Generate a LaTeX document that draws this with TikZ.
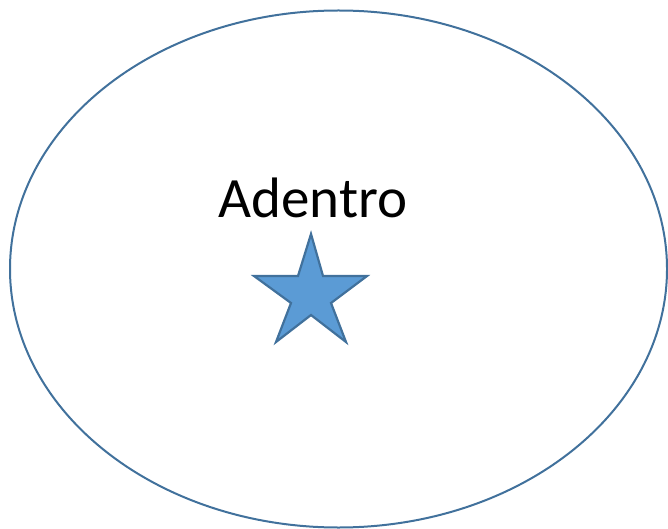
\documentclass[tikz,border=0pt]{standalone}
\usepackage{fontspec}
\setmainfont{Carlito}
\definecolor{edge}{HTML}{41719C}
\definecolor{fillb}{HTML}{5B9BD5}
\begin{document}
\begin{tikzpicture}[x=1pt,y=-1pt,
  outline/.style={draw=edge,line width=2pt},
  starshape/.style={draw=edge,fill=fillb,line width=2.2pt,line join=miter}]
\useasboundingbox (0,0) rectangle (668,529);
\draw[outline] (338.5,269) ellipse [x radius=328.5, y radius=258.5];
\node[font=\fontsize{57}{60}\selectfont,anchor=base,inner sep=0] (lbl) at (313,218) {Adentro};
\draw[starshape] (311,234) -- (323,276) -- (367,276) -- (331,303) -- (346,342)
  -- (311,315) -- (276,342) -- (291,303) -- (254,276) -- (298,276) -- cycle;
\end{tikzpicture}
\end{document}
